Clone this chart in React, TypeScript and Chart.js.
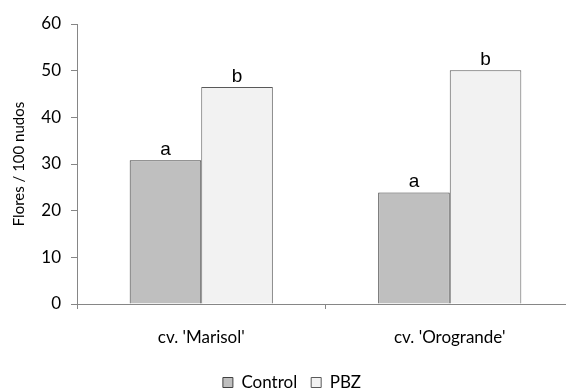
import React, { useEffect, useRef } from "react";
import { Chart, registerables } from "chart.js";

Chart.register(...registerables);

// Flowers per 100 nodes for two cultivars, untreated vs. PBZ
const cultivars = ["cv. 'Marisol'", "cv. 'Orogrande'"];
const controlValues = [30.8, 23.9];
const pbzValues = [46.5, 50.1];
// significance letters shown above each bar
const controlLetters = ["a", "a"];
const pbzLetters = ["b", "b"];
const yTicks = [0, 10, 20, 30, 40, 50, 60];

const letterPlugin = {
  id: "letters",
  afterDatasetsDraw(chart: any) {
    const { ctx } = chart;
    ctx.save();
    ctx.font = "19px 'Liberation Sans', Arial, sans-serif";
    ctx.fillStyle = "#000";
    ctx.textAlign = "center";
    ctx.textBaseline = "alphabetic";
    chart.data.datasets.forEach((ds: any, i: number) => {
      const meta = chart.getDatasetMeta(i);
      meta.data.forEach((el: any, j: number) => {
        const t = ds.letters?.[j];
        if (t) ctx.fillText(t, el.x, el.y - 5);
      });
    });
    ctx.restore();
  },
};

export default function App() {
  const ref = useRef<HTMLCanvasElement>(null);

  useEffect(() => {
    if (!ref.current) return;
    const family = "Lato, 'Open Sans', sans-serif";
    const font = { family, size: 17 };
    const axisColor = "#868686";
    const chart = new Chart(ref.current, {
      type: "bar",
      data: {
        labels: cultivars,
        datasets: [
          {
            label: "Control",
            data: controlValues,
            backgroundColor: "#bfbfbf",
            borderColor: "#404040",
            borderWidth: 1,
            letters: controlLetters,
          } as any,
          {
            label: "PBZ",
            data: pbzValues,
            backgroundColor: "#f2f2f2",
            borderColor: "#595959",
            borderWidth: 1,
            letters: pbzLetters,
          } as any,
        ],
      },
      options: {
        animation: false,
        responsive: false,
        devicePixelRatio: 1,
        layout: { padding: { top: 24, left: 10, right: 8, bottom: 0 } },
        datasets: {
          bar: { barPercentage: 1, categoryPercentage: 0.576 },
        },
        plugins: {
          legend: {
            position: "bottom",
            labels: {
              boxWidth: 10,
              boxHeight: 10,
              color: "#000",
              font,
              padding: 14,
            },
          },
          tooltip: { enabled: false },
        },
        scales: {
          x: {
            afterFit(scale: any) {
              scale.height = 56;
            },
            grid: {
              drawOnChartArea: false,
              drawTicks: true,
              tickLength: 5,
              color: axisColor,
              offset: true,
            },
            border: { color: axisColor },
            ticks: { color: "#000", font, padding: 18 },
          },
          y: {
            min: 0,
            max: 60,
            afterBuildTicks(scale: any) {
              scale.ticks = yTicks.map((v) => ({ value: v }));
            },
            afterFit(scale: any) {
              scale.width = 67;
            },
            grid: {
              drawOnChartArea: false,
              drawTicks: true,
              tickLength: 6,
              color: axisColor,
            },
            border: { color: axisColor },
            ticks: { color: "#000", font, padding: 10 },
            title: {
              display: true,
              text: "Flores / 100 nudos",
              color: "#000",
              font: { family, size: 15 },
              padding: { top: 0, bottom: 0 },
            },
          },
        },
      },
      plugins: [letterPlugin],
    });
    return () => chart.destroy();
  }, []);

  return (
    <div
      style={{
        position: "fixed",
        left: 0,
        top: 0,
        width: 566,
        height: 390,
        overflow: "hidden",
        background: "#fff",
      }}
    >
      <canvas ref={ref} width={582} height={401} />
    </div>
  );
}
